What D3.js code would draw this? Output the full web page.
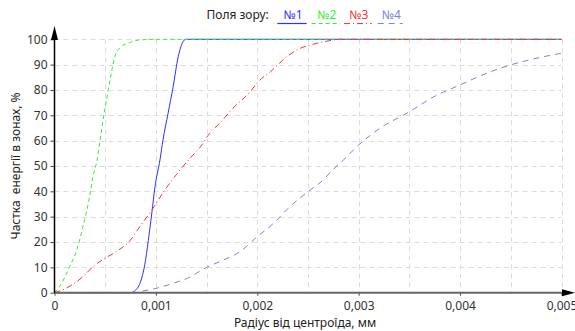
<!DOCTYPE html>
<html><head><meta charset="utf-8">
<script src="https://cdn.jsdelivr.net/npm/d3@7/dist/d3.min.js"></script>
<style>body{margin:0;background:#fff}svg{display:block}text{font-family:"Noto Sans",sans-serif}</style>
</head><body><svg id="c" width="575" height="331"></svg>
<script>
const xTicks = [0, 0.001, 0.002, 0.003, 0.004, 0.005];
const xTickLabels = ["0", "0,001", "0,002", "0,003", "0,004", "0,005"];
const yTicks = [0,10,20,30,40,50,60,70,80,90,100];
const seriesNames = ["№1", "№2", "№3", "№4"];
const seriesColors = ["#3030ff", "#33ee33", "#ff3333", "#8080dd"];
const seriesDash = [null, "4,3", "6,3,1,3", "6,5"];

const x1 = [0, 0.00075, 0.0008, 0.00085, 0.00089, 0.000925, 0.00096, 0.00099, 0.00104, 0.00107, 0.00112, 0.00117, 0.00122, 0.00128, 0.0013, 0.002, 0.003, 0.004, 0.005];
const y1 = [0, 0, 1, 4.5, 11, 20.5, 31.5, 41.5, 52.4, 60.3, 70.8, 81.3, 93.1, 99.7, 100, 100, 100, 100, 100];

const x2 = [0, 0.00007, 0.00015, 0.00022, 0.00028, 0.00034, 0.00038, 0.00042, 0.00045, 0.00049, 0.00053, 0.00056, 0.0006, 0.00066, 0.00075, 0.00083, 0.001, 0.002, 0.003, 0.004, 0.005];
const y2 = [0, 3.7, 10.3, 16.9, 26, 36.6, 45.8, 52.4, 60.3, 70.8, 80, 86.6, 93.8, 97.1, 98.8, 99.7, 100, 100, 100, 100, 100];

const x3 = [0, 0.00007, 0.00017, 0.00028, 0.00038, 0.00048, 0.00061, 0.00075, 0.00084, 0.00096, 0.00107, 0.0012, 0.00134, 0.00144, 0.00153, 0.00163, 0.00176, 0.00193, 0.00201, 0.00213, 0.00229, 0.00242, 0.00252, 0.00265, 0.00275, 0.0028, 0.003, 0.004, 0.005];
const y3 = [0, 1, 3, 6.3, 10.3, 13.2, 16.2, 20.8, 26, 32.6, 39.5, 46.5, 53.2, 57.6, 62.9, 66.9, 72.8, 79.3, 83.3, 87.2, 93.1, 96.4, 97.7, 99, 99.7, 100, 100, 100, 100];

const x4 = [0, 0.0008, 0.00084, 0.001, 0.00117, 0.00134, 0.0014, 0.0015, 0.00166, 0.00183, 0.002, 0.00216, 0.00232, 0.0025, 0.00265, 0.00272, 0.00285, 0.003, 0.00321, 0.0035, 0.00374, 0.004, 0.00426, 0.0045, 0.00475, 0.005];
const y4 = [0, 0, 0.4, 1.7, 3.7, 6.3, 7.7, 10, 12.8, 16.2, 22.1, 27.4, 33.9, 39.9, 44.5, 47.5, 52.4, 58.3, 64.9, 71.4, 77.3, 82, 86.6, 89.9, 92.5, 94.5];

const seriesX = [x1, x2, x3, x4];
const seriesY = [y1, y2, y3, y4];

const svg = d3.select("#c");
const L = 54.5, R = 561.5, T = 39.3, B = 292.7;
const x = d3.scaleLinear().domain([0, 0.005]).range([L, R]);
const y = d3.scaleLinear().domain([0, 100]).range([B, T]);

// grid
const grid = svg.append("g").attr("stroke", "#dcdcdc").attr("stroke-width", 1).attr("stroke-dasharray", "5,4");
d3.range(1, 11).map(i => i * 0.0005).forEach(v => {
  grid.append("line").attr("x1", Math.round(x(v)) + 0.5).attr("x2", Math.round(x(v)) + 0.5).attr("y1", T).attr("y2", B);
});
yTicks.filter(v => v > 0).forEach(v => {
  grid.append("line").attr("x1", L).attr("x2", R).attr("y1", Math.round(y(v)) + 0.5).attr("y2", Math.round(y(v)) + 0.5);
});

// series
seriesNames.forEach((n, i) => {
  const pts = seriesX[i].map((v, j) => [v, seriesY[i][j]]);
  const gen = d3.line().x(d => x(d[0])).y(d => y(d[1])).curve(d3.curveMonotoneX);
  const p = svg.append("path").attr("d", gen(pts)).attr("fill", "none")
    .attr("stroke", seriesColors[i]).attr("stroke-width", 1);
  if (seriesDash[i]) p.attr("stroke-dasharray", seriesDash[i]);
});

// x axis
const xAxis = d3.axisBottom(x).tickValues(xTicks).tickFormat((d, i) => xTickLabels[i]).tickSize(3).tickPadding(6);
const gx = svg.append("g").attr("transform", `translate(0,${B})`).call(xAxis);
gx.select(".domain").remove();
gx.selectAll(".tick line").attr("stroke", "#444");
gx.selectAll("text").attr("font-size", 12).attr("fill", "#333").attr("font-family", "Noto Sans");
svg.append("line").attr("x1", L).attr("x2", 566).attr("y1", B).attr("y2", B).attr("stroke", "#666").attr("stroke-width", 2);
svg.append("path").attr("d", `M562,${B-3.5}L575,${B}L562,${B+3.5}Z`).attr("fill", "#000");

// y axis
const yAxis = d3.axisLeft(y).tickValues(yTicks).tickSize(4).tickPadding(3);
const gy = svg.append("g").attr("transform", `translate(${L},0)`).call(yAxis);
gy.select(".domain").remove();
gy.selectAll(".tick line").attr("stroke", "#444");
gy.selectAll("text").attr("font-size", 12).attr("fill", "#333").attr("font-family", "Noto Sans");
svg.append("line").attr("x1", L).attr("x2", L).attr("y1", 34).attr("y2", B).attr("stroke", "#000").attr("stroke-width", 1.5);
svg.append("path").attr("d", `M${L-3.5},40L${L},26L${L+3.5},40Z`).attr("fill", "#000");

// titles
svg.append("text").attr("x", 305).attr("y", 327).attr("text-anchor", "middle").attr("font-size", 12).attr("fill", "#222").text("Радіус від центроїда, мм");
svg.append("text").attr("transform", "translate(20,166) rotate(-90)").attr("text-anchor", "middle").attr("font-size", 12).attr("fill", "#222").style("white-space", "pre").text("Частка  енергії в зонах, %");

// legend
svg.append("text").attr("x", 206.5).attr("y", 19).attr("font-size", 12).attr("fill", "#222").text("Поля зору:");
const legX = [[277.3, 306.7], [311.7, 340], [344, 371.7], [377.7, 402.7]];
seriesNames.forEach((n, i) => {
  const cx = (legX[i][0] + legX[i][1]) / 2;
  svg.append("text").attr("x", cx + 1).attr("y", 19).attr("text-anchor", "middle").attr("font-size", 12).attr("fill", seriesColors[i]).text(n);
  const l = svg.append("line").attr("x1", legX[i][0]).attr("x2", legX[i][1]).attr("y1", 23.5).attr("y2", 23.5)
    .attr("stroke", seriesColors[i]).attr("stroke-width", 1.2);
  if (seriesDash[i]) l.attr("stroke-dasharray", seriesDash[i]);
});
</script></body></html>
